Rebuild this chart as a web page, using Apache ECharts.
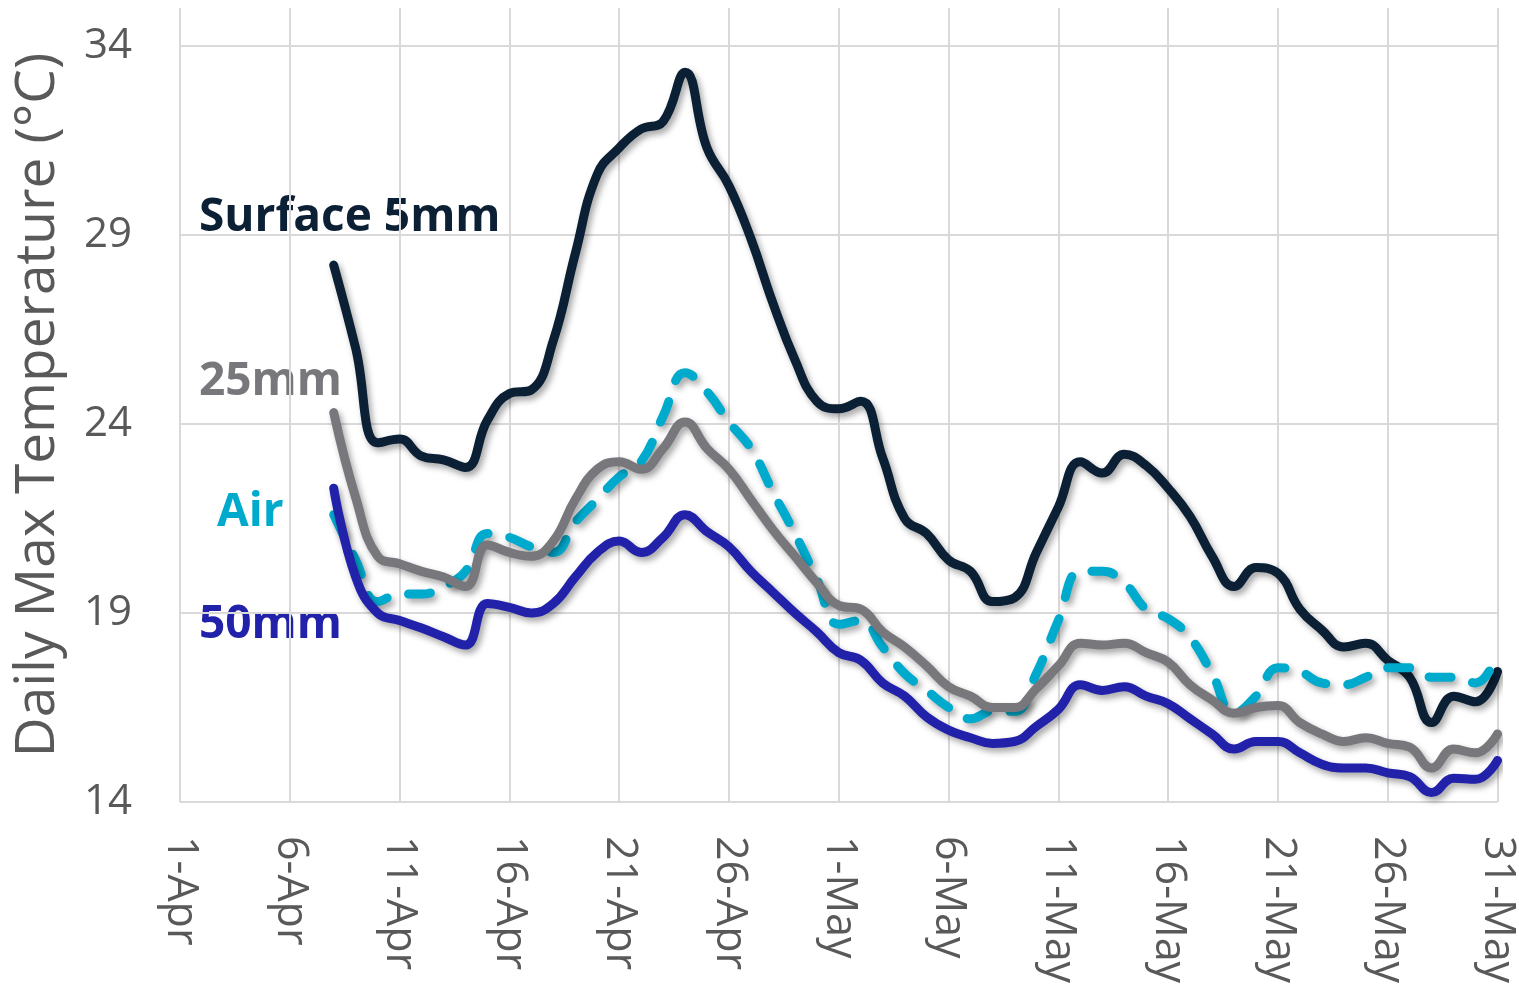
<!DOCTYPE html>
<html>
<head>
<meta charset="utf-8">
<script src="https://cdn.jsdelivr.net/npm/echarts@6/dist/echarts.min.js"></script>
<style>
html, body { margin: 0; padding: 0; background: #fff; }
#chart { width: 1519px; height: 994px; }
</style>
</head>
<body>
<div id="chart"></div>
<script>
// daily max temperature, 8-Apr .. 31-May
var surface = [28.2, 26.0, 23.5, 23.6, 23.15, 23.05, 22.85, 24.1, 24.8, 24.9,
    26.2, 28.5, 30.6, 31.3, 31.8, 32.0, 33.3, 31.3, 30.3, 28.9,
    27.2, 25.7, 24.6, 24.4, 24.6, 23.1, 21.5, 21.1, 20.4, 20.1,
    19.3, 19.4, 20.6, 21.8, 23.0, 22.7, 23.2, 22.9, 22.3, 21.55,
    20.5, 19.7, 20.2, 20.05, 19.1, 18.55, 18.1, 18.2, 17.75, 17.3,
    16.1, 16.8, 16.65, 17.45];
var mm25 = [24.3, 22.05, 20.5, 20.3, 20.1, 19.95, 19.7, 20.8, 20.6, 20.5,
    20.9, 22.0, 22.8, 23.0, 22.8, 23.35, 24.05, 23.35, 22.8, 22.0,
    21.2, 20.5, 19.8, 19.2, 19.1, 18.5, 18.1, 17.6, 17.05, 16.8,
    16.5, 16.5, 17.0, 17.6, 18.2, 18.15, 18.2, 17.95, 17.7, 17.1,
    16.7, 16.35, 16.5, 16.55, 16.1, 15.8, 15.6, 15.7, 15.55, 15.45,
    14.9, 15.4, 15.3, 15.8];
var mm50 = [22.3, 19.95, 19.0, 18.8, 18.6, 18.37, 18.15, 19.25, 19.15, 19.0,
    19.25, 19.95, 20.6, 20.9, 20.6, 21.0, 21.6, 21.15, 20.75, 20.1,
    19.55, 19.0, 18.5, 17.95, 17.75, 17.15, 16.8, 16.25, 15.9, 15.7,
    15.55, 15.6, 16.0, 16.45, 17.1, 16.95, 17.05, 16.8, 16.6, 16.2,
    15.8, 15.4, 15.6, 15.6, 15.3, 15.0, 14.9, 14.9, 14.77, 14.67,
    14.25, 14.63, 14.6, 15.1];
var air = [21.6, 20.4, 19.3, 19.5, 19.5, 19.7, 20.1, 21.1, 21.0, 20.75,
    20.6, 21.4, 22.0, 22.6, 23.0, 24.2, 25.35, 24.85, 24.05, 23.35,
    22.2, 21.1, 19.9, 18.7, 18.8, 18.1, 17.4, 16.95, 16.5, 16.2,
    16.4, 16.4, 17.4, 18.8, 20.1, 20.1, 19.8, 19.1, 18.85, 18.35,
    17.4, 16.35, 16.8, 17.55, 17.45, 17.15, 17.1, 17.3, 17.55, 17.55,
    17.3, 17.3, 17.15, 17.95];

// x categories 1-Apr .. 31-May
var months = [['Apr', 30], ['May', 31]];
var dates = [];
months.forEach(function (m) {
    for (var i = 1; i <= m[1]; i++) dates.push(i + '-' + m[0]);
});
var lead = dates.length - surface.length; // data starts 8-Apr
function pad(arr) {
    return new Array(lead).fill(null).concat(arr);
}

var colors = {
    surface: '#0b1f35',
    mm25: '#77777c',
    air: '#00aacd',
    mm50: '#2121aa'
};

var chart = echarts.init(document.getElementById('chart'));

function lineSeries(name, data, color, dashed) {
    return {
        name: name,
        type: 'line',
        data: pad(data),
        smooth: 0.45,
        showSymbol: false,
        lineStyle: {
            color: color,
            width: 9,
            type: dashed ? [22, 22] : 'solid',
            cap: 'round',
            join: 'round',
            shadowColor: 'rgba(0,0,0,0.35)',
            shadowBlur: 6,
            shadowOffsetX: 3,
            shadowOffsetY: 4
        },
        itemStyle: { color: color }
    };
}

var labelFont = 'bold 46px "Open Sans"';

var option = {
    animation: false,
    backgroundColor: '#fff',
    grid: {
        left: 180,
        right: 19,
        top: 8,
        bottom: 192
    },
    xAxis: {
        type: 'category',
        boundaryGap: false,
        data: dates,
        axisLine: { show: false },
        axisTick: { show: false },
        axisLabel: {
            interval: 4,
            rotate: -90,
            margin: 34,
            fontSize: 43,
            fontFamily: 'Open Sans',
            color: '#595959'
        },
        splitLine: {
            show: true,
            interval: 4,
            lineStyle: { color: '#d9d9d9', width: 2 }
        }
    },
    yAxis: {
        type: 'value',
        min: 14,
        max: 35,
        interval: 5,
        name: 'Daily Max Temperature (°C)',
        nameLocation: 'middle',
        nameGap: 114,
        nameTextStyle: {
            fontSize: 55,
            fontFamily: 'Open Sans',
            color: '#595959'
        },
        axisLine: { show: false },
        axisTick: { show: false },
        axisLabel: {
            margin: 48,
            fontSize: 42,
            fontFamily: 'Open Sans',
            color: '#595959',
            showMaxLabel: false
        },
        splitLine: {
            show: true,
            showMaxLine: false,
            lineStyle: { color: '#d9d9d9', width: 2 }
        }
    },
    series: [
        lineSeries('Surface 5mm', surface, colors.surface, false),
        lineSeries('Air', air, colors.air, true),
        lineSeries('25mm', mm25, colors.mm25, false),
        lineSeries('50mm', mm50, colors.mm50, false)
    ],
    graphic: [
        { type: 'text', style: { text: 'Surface 5mm', x: 199, y: 218, font: labelFont, fill: colors.surface, textVerticalAlign: 'middle' } },
        { type: 'text', style: { text: '25mm', x: 199, y: 382, font: labelFont, fill: colors.mm25, textVerticalAlign: 'middle' } },
        { type: 'text', style: { text: 'Air', x: 217, y: 513, font: labelFont, fill: colors.air, textVerticalAlign: 'middle' } },
        { type: 'text', style: { text: '50mm', x: 199, y: 625, font: labelFont, fill: colors.mm50, textVerticalAlign: 'middle' } }
    ]
};
chart.setOption(option);
</script>
</body>
</html>
